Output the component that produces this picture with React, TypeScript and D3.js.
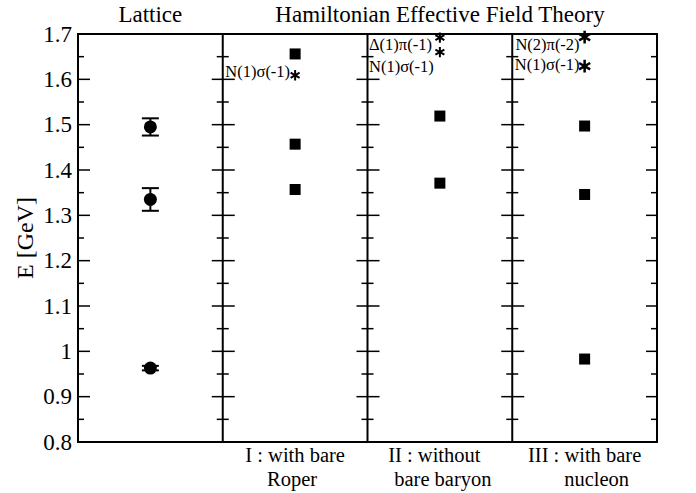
import React from "react";
import * as d3 from "d3";

// ---- data ----
const panelNames = ["Lattice", "I", "II", "III"];
const hefftTitle = "Hamiltonian Effective Field Theory";
const bottomLabels1 = ["", "I : with bare", "II : without", "III : with bare"];
const bottomLabels2 = ["", "Roper", "bare baryon", "nucleon"];
const yTicks = [0.8, 0.9, 1.0, 1.1, 1.2, 1.3, 1.4, 1.5, 1.6, 1.7];

const latticeE = [1.495, 1.335, 0.963];
const latticeErr = [0.019, 0.025, 0.005];

const panelIE = [1.656, 1.457, 1.357];
const panelIIE = [1.519, 1.371];
const panelIIIE = [1.497, 1.346, 0.983];

const starsI = [1.609];
const starsII = [1.692, 1.66];
const starsIII = [1.693, 1.629];
const starLabelsI = ["N(1)σ(-1)"];
const starLabelsII = ["Δ(1)π(-1)", "N(1)σ(-1)"];
const starLabelsIII = ["N(2)π(-2)", "N(1)σ(-1)"];

// ---- layout ----
const W = 696, H = 493;
const L = 78, R = 657, T = 34, B = 442;
const FONT = "'Liberation Serif', 'Times New Roman', serif";

// label placement relative to star or panel edge
const labelLayoutI = [{ anchor: "end", from: "star", dx: -5, dy: 2 }];
const labelLayoutII = [
  { anchor: "start", from: "panel", dx: 1.5, dy: 12.5 },
  { anchor: "start", from: "panel", dx: 1.5, dy: 19.5 },
];
const labelLayoutIII = [
  { anchor: "end", from: "star", dx: -5, dy: 12.5 },
  { anchor: "end", from: "star", dx: -5, dy: 4 },
];
const bottomDx1 = [0, 0, -5.5, 0];
const bottomDx2 = [0, -3, 3, 12];

export default function App() {
  const y = d3.scaleLinear().domain([0.8, 1.7]).range([B, T]);
  const px = d3.scaleLinear().domain([0, 4]).range([L, R]);
  const cx = (i: number) => px(i + 0.5);
  const minor = d3.range(0.85, 1.7, 0.1);

  const star = (big: boolean) =>
    d3.symbol(d3.symbolAsterisk, big ? 115 : 75)() as string;

  const sq = 11;

  const starGroups = [
    { panel: 1, vals: starsI, labels: starLabelsI, lay: labelLayoutI, big: false },
    { panel: 2, vals: starsII, labels: starLabelsII, lay: labelLayoutII, big: false },
    { panel: 3, vals: starsIII, labels: starLabelsIII, lay: labelLayoutIII, big: true },
  ];
  const squareGroups = [
    { panel: 1, vals: panelIE },
    { panel: 2, vals: panelIIE },
    { panel: 3, vals: panelIIIE },
  ];

  return (
    <svg width={W} height={H} style={{ position: "absolute", left: 0, top: 0, background: "#fff" }}>
      <rect x={0} y={0} width={W} height={H} fill="#fff" />
      {/* titles */}
      <text x={cx(0)} y={22} fontFamily={FONT} fontSize={23} textAnchor="middle">
        {panelNames[0]}
      </text>
      <text x={440} y={22} fontFamily={FONT} fontSize={23} textAnchor="middle">
        {hefftTitle}
      </text>
      {/* y label */}
      <text
        transform={`translate(33,${(T + B) / 2}) rotate(-90)`}
        fontFamily={FONT}
        fontSize={24}
        textAnchor="middle"
      >
        E [GeV]
      </text>
      {/* y tick labels */}
      {yTicks.map((t) => (
        <text
          key={t}
          x={72}
          y={y(t) + 7.5}
          fontFamily={FONT}
          fontSize={23}
          textAnchor="end"
        >
          {d3.format("~g")(t)}
        </text>
      ))}
      {/* ticks on each panel edge */}
      {d3.range(5).map((k) => {
        const x = px(k);
        return (
          <g key={k} stroke="#000" strokeWidth={1.5}>
            {yTicks.slice(1, -1).map((t) => (
              <line key={"M" + t} x1={k > 0 ? x - 11 : x} x2={k < 4 ? x + 12 : x} y1={y(t)} y2={y(t)} />
            ))}
            {minor.map((t) => (
              <line key={"m" + t} x1={k > 0 ? x - 6 : x} x2={k < 4 ? x + 6 : x} y1={y(t)} y2={y(t)} />
            ))}
          </g>
        );
      })}
      {/* frame and dividers */}
      <rect x={L} y={T} width={R - L} height={B - T} fill="none" stroke="#000" strokeWidth={2} />
      {d3.range(1, 4).map((k) => (
        <line key={k} x1={px(k)} x2={px(k)} y1={T} y2={B} stroke="#000" strokeWidth={2} />
      ))}
      {/* lattice points */}
      {latticeE.map((e, i) => (
        <g key={i} stroke="#000" strokeWidth={2}>
          <line x1={cx(0)} x2={cx(0)} y1={y(e - latticeErr[i])} y2={y(e + latticeErr[i])} />
          <line x1={cx(0) - 8.5} x2={cx(0) + 8.5} y1={y(e - latticeErr[i])} y2={y(e - latticeErr[i])} />
          <line x1={cx(0) - 8.5} x2={cx(0) + 8.5} y1={y(e + latticeErr[i])} y2={y(e + latticeErr[i])} />
          <circle cx={cx(0)} cy={y(e)} r={6.5} fill="#000" stroke="none" />
        </g>
      ))}
      {/* squares */}
      {squareGroups.map((g) =>
        g.vals.map((e, i) => (
          <rect
            key={g.panel + "-" + i}
            x={cx(g.panel) - sq / 2}
            y={y(e) - sq / 2}
            width={sq}
            height={sq}
            fill="#000"
          />
        ))
      )}
      {/* stars with labels */}
      {starGroups.map((g) =>
        g.vals.map((e, i) => {
          const sx = cx(g.panel);
          const sy = y(e);
          const lay = g.lay[i];
          const lx = lay.from === "star" ? sx + lay.dx : px(g.panel) + lay.dx;
          return (
            <g key={g.panel + "s" + i}>
              <path
                d={star(g.big)}
                transform={`translate(${sx},${sy})`}
                fill="none"
                stroke="#000"
                strokeWidth={g.big ? 2.5 : 2}
              />
              <text
                x={lx}
                y={sy + lay.dy}
                fontFamily={FONT}
                fontSize={16.5}
                textAnchor={lay.anchor as any}
              >
                {g.labels[i]}
              </text>
            </g>
          );
        })
      )}
      {/* bottom labels */}
      {d3.range(1, 4).map((k) => (
        <g key={k}>
          <text x={cx(k) + bottomDx1[k]} y={462} fontFamily={FONT} fontSize={20.5} textAnchor="middle">
            {bottomLabels1[k]}
          </text>
          <text x={cx(k) + bottomDx2[k]} y={485.5} fontFamily={FONT} fontSize={20.5} textAnchor="middle">
            {bottomLabels2[k]}
          </text>
        </g>
      ))}
    </svg>
  );
}
